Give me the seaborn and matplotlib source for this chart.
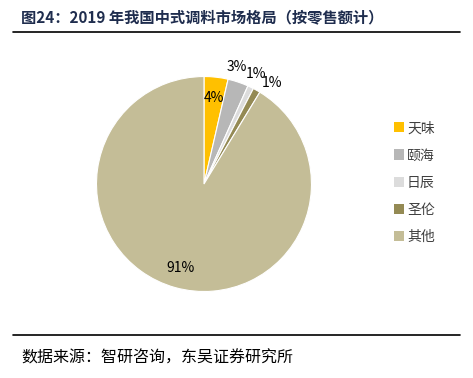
#%%
'''PACKAGE IMPORTS'''
import matplotlib
matplotlib.use('Agg')
import matplotlib.pyplot as plt
from matplotlib.lines import Line2D
from matplotlib.patches import Patch
import numpy as np
import seaborn as sns

#%%
'''Data read off the chart (retail-sales share, %)'''
brands = ['天味', '颐海', '日辰', '圣伦', '其他']
shares = [3.6, 3.1, 0.9, 1.1, 91.3]
colors = ['#FFC000', '#B7B7B7', '#DCDCDC', '#948A54', '#C4BD97']

titleText = '图24：2019 年我国中式调料市场格局（按零售额计）'
sourceText = '数据来源：智研咨询，东吴证券研究所'

#%%
'''Plot'''
sns.set_theme(style = 'white')
plt.rcParams['font.family'] = ['Noto Sans CJK SC', 'DejaVu Sans']

fig = plt.figure(figsize = (4.73, 3.78), dpi = 100)
ax = fig.add_axes([0.204, 0.2288, 0.4545, 0.5688])

wedges, texts, autotexts = ax.pie(shares, colors = colors,
                                  startangle = 90, counterclock = False,
                                  autopct = '%.0f%%', pctdistance = 0.81,
                                  wedgeprops = dict(edgecolor = 'white', linewidth = 0.8),
                                  textprops = dict(fontsize = 10, color = 'black'))

#Small slices get their labels pushed just outside the rim
#(small angular nudges so the crowded labels sit side by side)
nudge = [0, 3, 0.5, -4.5, 0]
for w, t, v, dn in zip(wedges, autotexts, shares, nudge):
    if v < 3.5:
        ang = np.deg2rad((w.theta1 + w.theta2) / 2 + dn)
        t.set_position((1.13 * np.cos(ang), 1.13 * np.sin(ang)))

ax.set_xlim(-1, 1)
ax.set_ylim(-1, 1)
ax.set_aspect('equal')

#Legend
handles = [Patch(facecolor = c, edgecolor = 'none') for c in colors]
fig.legend(handles, brands, loc = 'center left',
           bbox_to_anchor = (0.818, 0.517), frameon = False,
           fontsize = 10, labelcolor = '#404040',
           handlelength = 0.75, handleheight = 0.75,
           handletextpad = 0.2, labelspacing = 0.95, borderpad = 0)

#Title, rules and source
fig.text(0.045, 0.955, titleText, fontsize = 11, fontweight = 'bold',
         color = '#1F2D4E', va = 'center', ha = 'left')
fig.add_artist(Line2D([13/473, 460/473], [1 - 32/378, 1 - 32/378],
                      color = 'black', linewidth = 1.2))
fig.add_artist(Line2D([13/473, 460/473], [1 - 335/378, 1 - 335/378],
                      color = 'black', linewidth = 1.2))
fig.text(0.045, 0.053, sourceText, fontsize = 11.5, color = 'black',
         va = 'center', ha = 'left')

plt.savefig('out.png', dpi = 100)
